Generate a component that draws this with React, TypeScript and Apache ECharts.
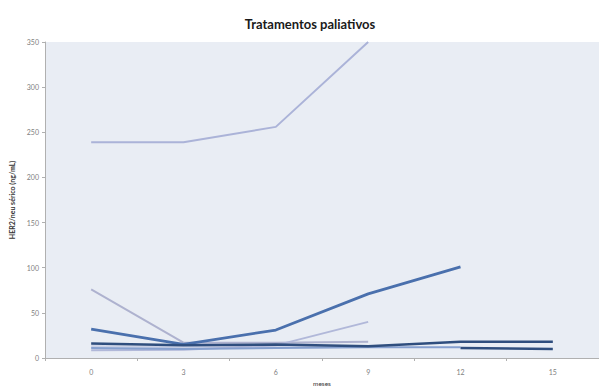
import React, { useEffect, useRef } from "react";
import * as echarts from "echarts";

const months = ["0", "3", "6", "9", "12", "15"];
const yTicks = [0, 50, 100, 150, 200, 250, 300, 350];

const s1 = [239, 239, 256, 350, null, null];
const s2 = [76, 17, 17, 18, null, null];
const s3 = [8.5, 9, 14, 40, null, null];
const s4 = [32, 15, 31, 71, 101, null];
const s5 = [16, 14, 15, 13, 18, 18];
const s6 = [11, 10, 11, 12, 12, null];
const s7 = [null, null, null, null, 11, 10];
const s8 = [13, 12, 12, 13, null, null];

const seriesDefs = [
  { name: "p1", data: s1, color: "#abb3d8", width: 2 },
  { name: "p8", data: s8, color: "#c9d0e6", width: 2 },
  { name: "p2", data: s2, color: "#aeb2cf", width: 2 },
  { name: "p3", data: s3, color: "#b1b8d9", width: 2 },
  { name: "p6", data: s6, color: "#86a0cf", width: 2 },
  { name: "p4", data: s4, color: "#4a70ad", width: 2.8 },
  { name: "p5", data: s5, color: "#2f4e7e", width: 2.5 },
  { name: "p7", data: s7, color: "#2f4e7e", width: 2.5 },
];

export default function App() {
  const ref = useRef<HTMLDivElement>(null);
  useEffect(() => {
    if (!ref.current) return;
    const chart = echarts.init(ref.current, null, { renderer: "svg" });
    chart.setOption({
      animation: false,
      backgroundColor: "#ffffff",
      title: {
        text: "Tratamentos paliativos",
        left: 305,
        top: 12,
        textAlign: "center",
        textStyle: { fontFamily: "Lato", fontWeight: "bold", fontSize: 13, color: "#1a1a1a" },
      },
      grid: {
        left: 45,
        right: 0,
        top: 42,
        bottom: 30,
        show: true,
        backgroundColor: "#e9edf4",
        borderWidth: 0,
      },
      xAxis: {
        type: "category",
        data: months,
        boundaryGap: true,
        name: "meses",
        nameLocation: "middle",
        nameGap: 22,
        nameTextStyle: { fontFamily: "Lato", fontSize: 6.5, color: "#333" },
        axisLine: { show: true, lineStyle: { color: "#b0b0b0", width: 1 } },
        axisTick: { show: true, length: 3, lineStyle: { color: "#b0b0b0" } },
        axisLabel: { fontFamily: "Lato", fontSize: 7, color: "#808080", margin: 10 },
        splitLine: { show: false },
      },
      yAxis: {
        type: "value",
        min: yTicks[0],
        max: yTicks[yTicks.length - 1],
        interval: 50,
        name: "HER2/neu sérico (ng/mL)",
        nameLocation: "middle",
        nameGap: 30,
        nameRotate: 90,
        nameTextStyle: { fontFamily: "Lato", fontSize: 7, color: "#333", fontWeight: "bold" },
        axisLine: { show: true, lineStyle: { color: "#b0b0b0", width: 1 } },
        axisTick: { show: true, length: 3, lineStyle: { color: "#b0b0b0" } },
        axisLabel: { fontFamily: "Lato", fontSize: 7, color: "#808080", margin: 6 },
        splitLine: { show: false },
      },
      series: seriesDefs.map((d) => ({
        name: d.name,
        type: "line",
        data: d.data,
        symbol: "none",
        connectNulls: false,
        clip: true,
        lineStyle: { color: d.color, width: d.width },
        itemStyle: { color: d.color },
      })),
    });
    return () => chart.dispose();
  }, []);
  return <div ref={ref} style={{ width: 599, height: 392, position: "absolute", left: 0, top: 0 }} />;
}
